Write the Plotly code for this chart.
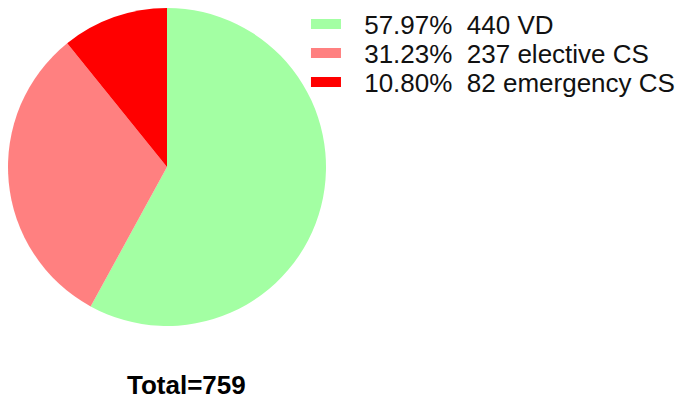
import plotly.graph_objects as go

groups = ["VD", "elective CS", "emergency CS"]
counts = [440, 237, 82]
colors = ["#A3FFA3", "#FF8080", "#FF0000"]

total = sum(counts)
labels = [f"{c / total * 100:.2f}%\u00a0 {c} {g}" for g, c in zip(groups, counts)]

W, H = 685, 402

fig = go.Figure()
fig.add_trace(go.Pie(
    labels=labels, values=counts,
    marker=dict(colors=colors, line=dict(width=0)),
    sort=False, direction="clockwise", rotation=0,
    textinfo="none", hoverinfo="label", showlegend=False,
    domain=dict(x=[0, 318 / W], y=[1 - 318 / H, 1.0]),
))

# one legend per entry so the rows sit as tight as in the original
legend_names = ["legend", "legend2", "legend3"]
legend_y = [16, 45, 74]  # row centres, px from top
for lab, col, lg in zip(labels, colors, legend_names):
    fig.add_trace(go.Scatter(
        x=[None], y=[None], mode="lines", name="\u2002\u2009" + lab,
        line=dict(color=col, width=10), legend=lg,
    ))

leg_common = dict(x=0.435, xanchor="left", yanchor="middle", itemwidth=30,
                  bgcolor="rgba(0,0,0,0)", font=dict(size=26))
fig.update_layout(**{
    lg: dict(y=1 - py / H, **leg_common) for lg, py in zip(legend_names, legend_y)
})

fig.add_annotation(
    text="<b>Total=759</b>", x=0.2606, y=1 - 377 / H, xref="paper", yref="paper",
    xanchor="center", yanchor="middle",
    showarrow=False, font=dict(size=26, color="black"),
)

fig.update_layout(
    width=W, height=H,
    margin=dict(l=0, r=0, t=0, b=0, autoexpand=False),
    paper_bgcolor="white", plot_bgcolor="white",
    font=dict(family="Liberation Sans, Arial", size=26, color="#111111"),
    xaxis=dict(visible=False), yaxis=dict(visible=False),
)

fig.write_html("out.html")
